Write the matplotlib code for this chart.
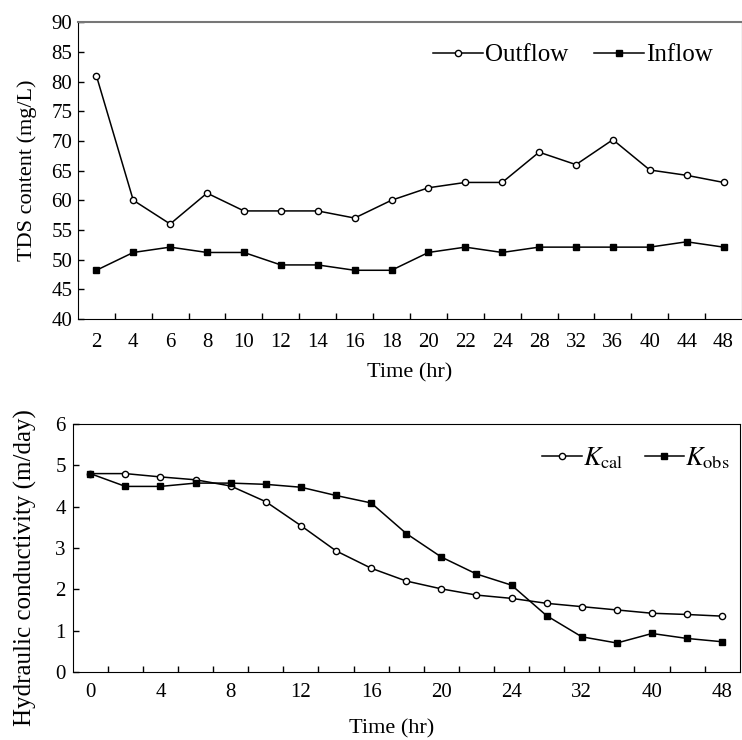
import numpy as np
import matplotlib
matplotlib.use("Agg")
import matplotlib.pyplot as plt

plt.rcParams['font.family'] = ['Liberation Serif', 'DejaVu Serif']
plt.rcParams['mathtext.fontset'] = 'stix'

# top panel: TDS content
tds_time = ['2', '4', '6', '8', '10', '12', '14', '16', '18', '20', '22', '24',
            '28', '32', '36', '40', '44', '48']
outflow = [81, 60, 56, 61.2, 58.2, 58.2, 58.2, 57, 60, 62.1, 63, 63,
           68.1, 66, 70.2, 65.1, 64.2, 63]
inflow = [48.2, 51.2, 52.1, 51.2, 51.2, 49.1, 49.1, 48.2, 48.2, 51.2, 52.1, 51.2,
          52.1, 52.1, 52.1, 52.1, 53, 52.1]

# bottom panel: hydraulic conductivity
k_time = ['0', '2', '4', '6', '8', '10', '12', '14', '16', '18', '20', '22', '24',
          '28', '32', '36', '40', '44', '48']
k_cal = [4.8, 4.8, 4.72, 4.65, 4.5, 4.12, 3.54, 2.93, 2.51, 2.2, 2.01, 1.86, 1.78,
         1.66, 1.58, 1.5, 1.42, 1.39, 1.35]
k_obs = [4.8, 4.49, 4.49, 4.57, 4.57, 4.54, 4.47, 4.27, 4.09, 3.35, 2.78, 2.37, 2.1,
         1.36, 0.85, 0.7, 0.93, 0.81, 0.73]

fig = plt.figure(figsize=(7.42, 7.40), dpi=100)

# ---- top
ax1 = fig.add_axes([0.105, 0.569, 0.895, 0.401])
x1 = np.arange(len(tds_time))
ax1.plot(x1, outflow, color='black', lw=1.1, marker='o', ms=4.5, mfc='white',
         mec='black', mew=1, label='Outflow')
ax1.plot(x1, inflow, color='black', lw=1.1, marker='s', ms=5, mfc='black',
         mec='black', label='Inflow')
ax1.set_xlim(-0.5, len(tds_time) - 0.5)
ax1.set_ylim(40, 90)
ax1.set_yticks(np.arange(40, 91, 5))
ax1.set_xticks(x1)
ax1.set_xticklabels(tds_time)
ax1.set_xticks(x1[:-1] + 0.5, minor=True)
ax1.tick_params(axis='x', which='major', length=0, pad=10, labelsize=15)
ax1.tick_params(axis='x', which='minor', direction='in', length=4, width=1)
ax1.tick_params(axis='y', direction='in', length=4, width=1, pad=4, labelsize=15)
ax1.set_xlabel('Time (hr)', fontsize=16, labelpad=8)
ax1.set_ylabel('TDS content (mg/L)', fontsize=16)
ax1.yaxis.set_label_coords(-0.062, 0.5)
ax1.spines['top'].set_color('#777777')
ax1.spines['top'].set_linewidth(1.5)
ax1.legend(loc='upper right', ncol=2, frameon=False, fontsize=18,
           handlelength=2.0, handletextpad=0.1, columnspacing=1.0,
           bbox_to_anchor=(0.99, 1.003))

# ---- bottom
ax2 = fig.add_axes([0.098, 0.092, 0.899, 0.335])
x2 = np.arange(len(k_time))
ax2.plot(x2, k_cal, color='black', lw=1.1, marker='o', ms=4.5, mfc='white',
         mec='black', mew=1, label=r'$K_{\mathrm{cal}}$')
ax2.plot(x2, k_obs, color='black', lw=1.1, marker='s', ms=5, mfc='black',
         mec='black', label=r'$K_{\mathrm{obs}}$')
ax2.set_xlim(-0.5, len(k_time) - 0.5)
ax2.set_ylim(0, 6)
ax2.set_yticks(np.arange(0, 7, 1))
ax2.set_xticks(x2[::2])
ax2.set_xticklabels(k_time[::2])
ax2.set_xticks(x2[:-1] + 0.5, minor=True)
ax2.tick_params(axis='x', which='major', length=0, pad=8, labelsize=15)
ax2.tick_params(axis='x', which='minor', direction='in', length=4, width=1)
ax2.tick_params(axis='y', direction='in', length=4, width=1, pad=5, labelsize=15)
ax2.set_xlabel('Time (hr)', fontsize=16)
ax2.xaxis.set_label_coords(0.478, -0.19)
ax2.set_ylabel('Hydraulic conductivity (m/day)', fontsize=18)
ax2.yaxis.set_label_coords(-0.054, 0.42)
ax2.legend(loc='upper right', ncol=2, frameon=False, fontsize=19,
           handlelength=1.5, handletextpad=0.05, columnspacing=0.8,
           bbox_to_anchor=(1.021, 1.01))

fig.savefig('out.png', dpi=100)
